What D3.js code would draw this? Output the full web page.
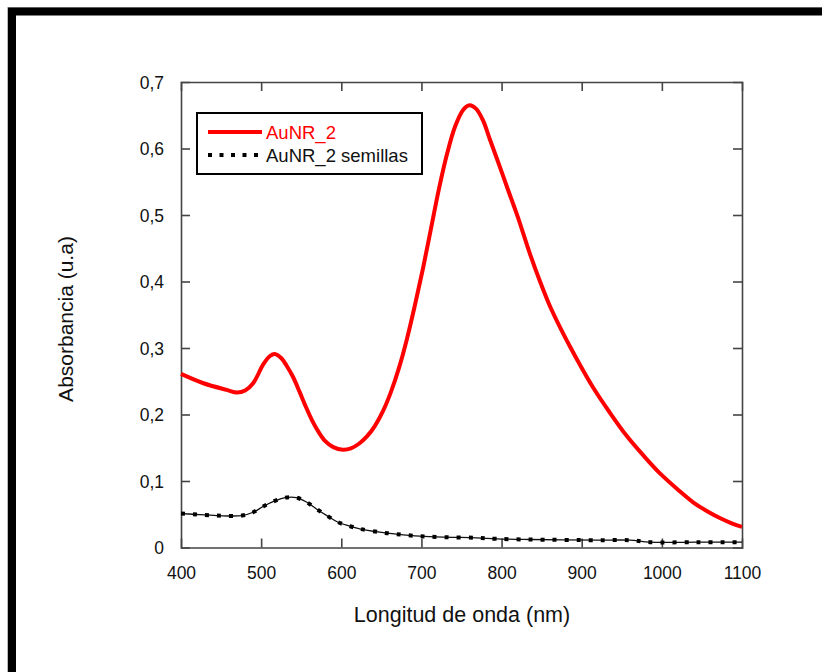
<!DOCTYPE html>
<html>
<head>
<meta charset="utf-8">
<script src="https://cdn.jsdelivr.net/npm/d3@7"></script>
<style>
  html, body { margin: 0; padding: 0; background: #fff; }
  svg { display: block; }
  text { font-family: "Liberation Sans", Arial, sans-serif; }
</style>
</head>
<body>
<svg id="chart" width="822" height="672"></svg>
<script>
// ---- Data ----
const xTicks = [400, 500, 600, 700, 800, 900, 1000, 1100];
const yTicks = [0, 0.1, 0.2, 0.3, 0.4, 0.5, 0.6, 0.7];
const yTickLabels = ["0", "0,1", "0,2", "0,3", "0,4", "0,5", "0,6", "0,7"];

const seriesNames = ["AuNR_2", "AuNR_2 semillas"];

const aunrWl  = [400,428,457,470,480,490,503,511,517,525,532,540,548,556,564,572,580,590,602,612,622,632,642,652,662,672,682,692,702,712,722,732,742,752,760,768,777,785,795,808,820,835,848,860,873,885,900,914,935,956,978,998,1020,1039,1056,1073,1088,1100];
const aunrAbs = [0.261,0.247,0.237,0.233,0.236,0.247,0.276,0.288,0.291,0.285,0.273,0.256,0.234,0.211,0.190,0.173,0.160,0.151,0.147,0.149,0.156,0.167,0.183,0.205,0.234,0.270,0.314,0.365,0.420,0.480,0.540,0.592,0.633,0.658,0.665,0.660,0.642,0.615,0.582,0.538,0.498,0.443,0.400,0.364,0.331,0.303,0.270,0.241,0.203,0.168,0.137,0.111,0.087,0.068,0.055,0.044,0.036,0.031];

const seedWl  = [400,415,445,476,490,503,517,530,544,557,569,582,596,611,623,648,669,698,731,769,794,835,919,960,985,1044,1100];
const seedAbs = [0.051,0.050,0.048,0.048,0.053,0.062,0.070,0.075,0.075,0.068,0.058,0.048,0.038,0.032,0.028,0.023,0.020,0.017,0.0155,0.0146,0.013,0.012,0.011,0.011,0.008,0.008,0.008];

// ---- Layout ----
const svg = d3.select("#chart");
const L = 181, R = 742, T = 82, B = 547.5;
const x = d3.scaleLinear().domain([400, 1100]).range([L, R]);
const y = d3.scaleLinear().domain([0, 0.7]).range([B, T]);
const axisColor = "#444";

// Outer frame
svg.append("rect").attr("x", 7.5).attr("y", 7.5).attr("width", 900).attr("height", 900)
  .attr("fill", "none").attr("stroke", "#bbb").attr("stroke-width", 1);
svg.append("rect").attr("x", 12).attr("y", 11.5).attr("width", 900).attr("height", 900)
  .attr("fill", "none").attr("stroke", "#000").attr("stroke-width", 8);

// Axes
const tickLen = 9;
const gx = svg.append("g").attr("transform", `translate(0,${B})`)
  .call(d3.axisBottom(x).tickValues(xTicks).tickSize(-tickLen).tickPadding(tickLen + 10).tickFormat(d3.format("d")));
const gxTop = svg.append("g").attr("transform", `translate(0,${T})`)
  .call(d3.axisTop(x).tickValues(xTicks).tickSize(-tickLen).tickFormat(""));
const gy = svg.append("g").attr("transform", `translate(${L},0)`)
  .call(d3.axisLeft(y).tickValues(yTicks).tickSize(-tickLen).tickPadding(tickLen + 8).tickFormat((d, i) => yTickLabels[i]));
const gyRight = svg.append("g").attr("transform", `translate(${R},0)`)
  .call(d3.axisRight(y).tickValues(yTicks).tickSize(-tickLen).tickFormat(""));

[gx, gxTop, gy, gyRight].forEach(g => {
  g.select(".domain").attr("stroke", axisColor).attr("stroke-width", 1.6);
  g.selectAll(".tick line").attr("stroke", axisColor).attr("stroke-width", 1.6);
  g.selectAll(".tick text").attr("fill", "#111").style("font-size", "17.5px")
    .style("font-family", "'Liberation Sans', Arial, sans-serif");
});
gx.selectAll(".tick").filter(d => d === 400 || d === 1100).select("line").remove();
gxTop.selectAll(".tick").filter(d => d === 400 || d === 1100).select("line").remove();
gy.selectAll(".tick").filter(d => d === 0 || d === 0.7).select("line").remove();
gyRight.selectAll(".tick").filter(d => d === 0 || d === 0.7).select("line").remove();
gy.selectAll(".tick text").attr("dy", "0.36em");

// Axis titles
svg.append("text").attr("x", 462).attr("y", 622).attr("text-anchor", "middle")
  .style("font-size", "21.5px").attr("fill", "#111").text("Longitud de onda (nm)");
svg.append("text").attr("transform", "translate(73,319) rotate(-90)").attr("text-anchor", "middle")
  .style("font-size", "21px").attr("fill", "#111").text("Absorbancia (u.a)");

// Curves
const line = d3.line().x(d => x(d[0])).y(d => y(d[1])).curve(d3.curveCatmullRom.alpha(0.5));
const seedPts = seedWl.map((w, i) => [w, seedAbs[i]]);
const aunrPts = aunrWl.map((w, i) => [w, aunrAbs[i]]);

svg.append("path").datum(seedPts).attr("d", line)
  .attr("fill", "none").attr("stroke", "#111").attr("stroke-width", 1.3);
svg.append("path").datum(seedPts).attr("d", line)
  .attr("fill", "none").attr("stroke", "#000").attr("stroke-width", 4).attr("stroke-dasharray", "4,8");

svg.append("path").datum(aunrPts).attr("d", line)
  .attr("fill", "none").attr("stroke", "#ff0000").attr("stroke-width", 4).attr("stroke-linejoin", "round");

// Legend
const lg = svg.append("g");
lg.append("rect").attr("x", 197).attr("y", 113).attr("width", 225).attr("height", 61)
  .attr("fill", "#fff").attr("stroke", "#000").attr("stroke-width", 2);
lg.append("line").attr("x1", 208).attr("x2", 262).attr("y1", 132).attr("y2", 132)
  .attr("stroke", "#ff0000").attr("stroke-width", 4);
lg.append("line").attr("x1", 208).attr("x2", 262).attr("y1", 155).attr("y2", 155)
  .attr("stroke", "#000").attr("stroke-width", 4).attr("stroke-dasharray", "4,7.5");
lg.append("text").attr("x", 266).attr("y", 139).style("font-size", "18.5px").attr("fill", "#ff0000").text(seriesNames[0]);
lg.append("text").attr("x", 266).attr("y", 162).style("font-size", "18.5px").attr("fill", "#111").text(seriesNames[1]);
</script>
</body>
</html>
